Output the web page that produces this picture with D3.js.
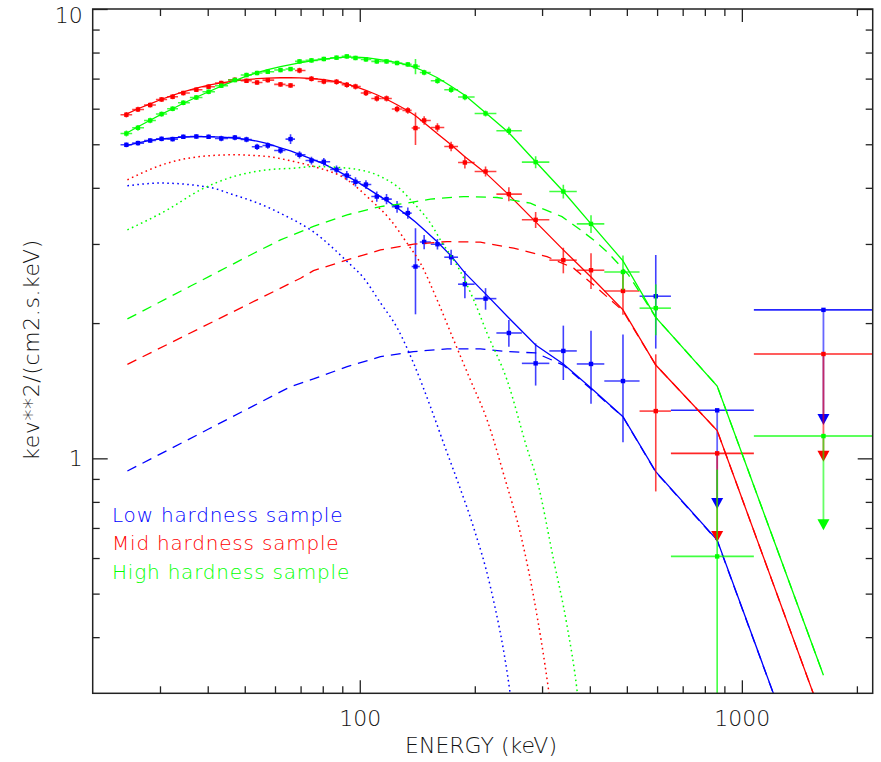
<!DOCTYPE html>
<html><head><meta charset="utf-8">
<script src="https://cdn.jsdelivr.net/npm/d3@7"></script>
<style>
html,body{margin:0;padding:0;background:#fff;}
svg{display:block;}
</style></head><body>
<svg id="chart" width="881" height="762"></svg>
<script>
// Channel energies (keV) shared by the three hardness samples, and their bin edges
const energy = [24.5, 26.27, 28.28, 30.29, 32.37, 34.53, 37.35, 40.21, 43.41, 47.11, 50.53, 53.85, 57.45, 62.02, 65.89, 69.55, 74.75, 80.52, 86.93, 92.48, 97.45, 103.8, 110.8, 117.5, 125.2, 133.6, 139.9, 147.4, 159.7, 173.4, 188.4, 213.4, 245.6, 288.6, 341.0, 402.9, 488.5, 595.2, 861.7, 1635];
const binEdges = [23.65, 25.37, 27.25, 29.27, 31.32, 33.44, 35.92, 38.75, 41.78, 45.22, 48.80, 52.17, 55.64, 59.70, 63.93, 67.69, 72.11, 77.60, 83.65, 89.66, 94.92, 100.6, 107.2, 114.0, 121.3, 129.3, 136.7, 143.6, 153.4, 166.4, 180.8, 199.8, 227.8, 265.6, 313.4, 369.8, 436.5, 539.8, 652.1, 1075, 2490];

// Unfolded spectra, keV^2 (photons/cm2/s/keV)
const lowValues = [4.986, 5.030, 5.097, 5.141, 5.134, 5.195, 5.203, 5.195, 5.150, 5.176, 5.124, 4.935, 4.968, 4.843, 5.134, 4.737, 4.600, 4.570, 4.393, 4.260, 4.125, 4.068, 3.825, 3.775, 3.629, 3.514, 2.672, 3.031, 2.996, 2.803, 2.441, 2.267, 1.901, 1.627, 1.734, 1.622, 1.486, 2.295];
const lowErrors = [0.06, 0.06, 0.06, 0.06, 0.06, 0.06, 0.06, 0.06, 0.07, 0.07, 0.07, 0.08, 0.08, 0.08, 0.13, 0.09, 0.09, 0.09, 0.09, 0.10, 0.10, 0.09, 0.10, 0.10, 0.11, 0.10, 0.58, 0.11, 0.08, 0.11, 0.17, 0.125, 0.13, 0.175, 0.24, 0.30, 0.40, 0.54];
const lowLimits = [{bin: 38, value: 1.279, arrowTo: 0.771}, {bin: 39, value: 2.140, arrowTo: 1.186}];

const midValues = [5.817, 5.977, 6.113, 6.291, 6.379, 6.501, 6.612, 6.714, 6.844, 6.956, 6.921, 6.862, 6.946, 6.795, 6.759, 7.299, 6.993, 6.897, 6.886, 6.781, 6.722, 6.501, 6.323, 6.323, 5.989, 5.947, 5.433, 5.649, 5.449, 4.943, 4.554, 4.349, 3.873, 3.395, 2.761, 2.622, 2.358, 1.274];
const midErrors = [0.08, 0.08, 0.08, 0.08, 0.08, 0.08, 0.08, 0.08, 0.08, 0.08, 0.08, 0.08, 0.08, 0.08, 0.08, 0.10, 0.10, 0.10, 0.10, 0.10, 0.10, 0.10, 0.10, 0.10, 0.10, 0.10, 0.45, 0.12, 0.12, 0.12, 0.14, 0.11, 0.14, 0.14, 0.18, 0.24, 0.27, 0.43];
const midLimits = [{bin: 38, value: 1.026, arrowTo: 0.651}, {bin: 39, value: 1.707, arrowTo: 0.983}];

const highValues = [5.284, 5.441, 5.649, 5.837, 5.998, 6.184, 6.355, 6.544, 6.749, 6.948, 7.129, 7.203, 7.251, 7.314, 7.352, 7.645, 7.685, 7.740, 7.792, 7.844, 7.781, 7.725, 7.645, 7.645, 7.582, 7.528, 7.451, 7.224, 6.921, 6.612, 6.368, 5.855, 5.358, 4.563, 3.925, 3.325, 2.599, 2.159, 0.605];
const highErrors = [0.08, 0.08, 0.08, 0.08, 0.08, 0.08, 0.08, 0.08, 0.08, 0.08, 0.08, 0.08, 0.08, 0.08, 0.08, 0.09, 0.09, 0.09, 0.09, 0.09, 0.09, 0.09, 0.09, 0.09, 0.09, 0.09, 0.29, 0.10, 0.10, 0.10, 0.10, 0.09, 0.11, 0.14, 0.14, 0.15, 0.23, 0.28, 0.34];
const highLimits = [{bin: 39, value: 1.121, arrowTo: 0.692}];

// Total model evaluated at the channel energies
const lowModel = [4.968, 5.037, 5.103, 5.141, 5.168, 5.187, 5.200, 5.200, 5.189, 5.163, 5.126, 5.079, 5.016, 4.910, 4.835, 4.749, 4.641, 4.523, 4.375, 4.253, 4.146, 4.010, 3.868, 3.751, 3.610, 3.464, 3.359, 3.225, 3.031, 2.822, 2.586, 2.323, 2.053, 1.788, 1.622, 1.434, 1.238, 0.934, 0.658, 0.149];
const midModel = [5.833, 5.998, 6.153, 6.297, 6.427, 6.544, 6.663, 6.767, 6.847, 6.918, 6.967, 6.996, 7.017, 7.031, 7.031, 7.024, 7.003, 6.960, 6.889, 6.801, 6.714, 6.594, 6.444, 6.297, 6.121, 5.936, 5.788, 5.581, 5.276, 4.986, 4.688, 4.318, 3.858, 3.359, 2.910, 2.533, 2.140, 1.613, 1.153, 0.260];
const highModel = [5.289, 5.469, 5.654, 5.833, 5.998, 6.169, 6.362, 6.544, 6.732, 6.925, 7.086, 7.215, 7.327, 7.440, 7.516, 7.586, 7.664, 7.731, 7.792, 7.812, 7.812, 7.792, 7.739, 7.673, 7.594, 7.497, 7.401, 7.269, 7.031, 6.732, 6.427, 5.875, 5.303, 4.570, 3.925, 3.325, 2.751, 2.059, 1.449, 0.329];

// Hard (power-law like) component, [energy, value]
const lowDashed = [[24.65, 0.937], [40.21, 1.162], [65.89, 1.444], [75.65, 1.502], [92.69, 1.600], [113.3, 1.684], [138.2, 1.728], [169.3, 1.752], [206.9, 1.752], [242.9, 1.728], [288.6, 1.716], [341.0, 1.613], [402.9, 1.427], [488.5, 1.236], [595.2, 0.932], [861.7, 0.656], [1635, 0.149]];
const midDashed = [[24.65, 1.619], [41.44, 2.017], [69.97, 2.517], [75.65, 2.617], [92.69, 2.764], [113.3, 2.910], [138.4, 2.996], [169.3, 3.037], [206.9, 3.027], [252.8, 2.935], [309.1, 2.812], [362.8, 2.650], [409.3, 2.432], [488.5, 2.129], [595.2, 1.613], [861.7, 1.153], [1635, 0.260]];
const highDashed = [[24.65, 2.043], [36.09, 2.418], [52.82, 2.861], [62.02, 3.063], [75.65, 3.281], [92.69, 3.483], [113.3, 3.634], [133.0, 3.698], [153.1, 3.775], [187.1, 3.825], [228.8, 3.806], [279.5, 3.698], [302.8, 3.585], [338.3, 3.451], [377.7, 3.225], [409.3, 3.063], [447.9, 2.861], [505.1, 2.560], [595.2, 2.059], [861.7, 1.449], [1635, 0.329]];

// Soft (thermal-like) component with exponential cutoff, [energy, value]
const lowDotted = [[24.65, 4.042], [30.04, 4.098], [40.61, 4.006], [46.74, 3.858], [53.90, 3.704], [63.17, 3.483], [75.65, 3.192], [92.69, 2.741], [102.3, 2.521], [113.3, 2.218], [125.3, 1.951], [138.2, 1.630], [153.1, 1.303], [167.5, 1.054], [179.8, 0.895], [198.3, 0.704], [219.7, 0.518], [246.8, 0.305], [250.8, 0.275]];
const midDotted = [[24.65, 4.168], [31.36, 4.539], [38.31, 4.696], [46.82, 4.737], [57.26, 4.696], [67.21, 4.577], [75.79, 4.461], [92.69, 4.168], [106.7, 3.761], [120.3, 3.394], [133.0, 3.012], [144.1, 2.719], [159.4, 2.252], [176.1, 1.834], [194.8, 1.494], [215.4, 1.217], [240.4, 0.895], [263.2, 0.681], [285.1, 0.492], [312.0, 0.305], [317.1, 0.275]];
const highDotted = [[24.65, 3.225], [31.36, 3.573], [38.31, 3.959], [46.82, 4.239], [57.26, 4.386], [67.21, 4.424], [75.79, 4.461], [92.69, 4.424], [113.3, 4.239], [125.3, 4.027], [138.4, 3.698], [153.1, 3.337], [162.6, 3.063], [183.4, 2.604], [198.7, 2.252], [215.4, 1.898], [242.9, 1.494], [274.0, 1.053], [291.0, 0.895], [321.6, 0.594], [348.6, 0.425], [370.3, 0.305], [375.4, 0.275]];

// Axis ticks
const xMajorTicks = [100, 1000];
const xMinorTicks = [30, 40, 50, 60, 70, 80, 90, 200, 300, 400, 500, 600, 700, 800, 900, 2000];
const yMajorTicks = [1, 10];
const yMinorTicks = [0.4, 0.5, 0.6, 0.7, 0.8, 0.9, 2, 3, 4, 5, 6, 7, 8, 9];

const samples = [
  {label: "Low hardness sample", color: "#0000ff", values: lowValues, errors: lowErrors, limits: lowLimits, model: lowModel, dashed: lowDashed, dotted: lowDotted},
  {label: "Mid hardness sample", color: "#ff0000", values: midValues, errors: midErrors, limits: midLimits, model: midModel, dashed: midDashed, dotted: midDotted},
  {label: "High hardness sample", color: "#00ff00", values: highValues, errors: highErrors, limits: highLimits, model: highModel, dashed: highDashed, dotted: highDotted}
];

const plot = {left: 92.7, top: 9, right: 872.7, bottom: 693.3};
const x = d3.scaleLog().domain([20, 2200]).range([plot.left, plot.right]);
const y = d3.scaleLog().domain([0.3, 10]).range([plot.bottom, plot.top]);
const FONT = '"DejaVu Sans", sans-serif';

const svg = d3.select("#chart");
svg.append("rect").attr("width", 881).attr("height", 762).attr("fill", "#fff");

svg.append("defs").append("clipPath").attr("id", "plotClip")
  .append("rect")
  .attr("x", plot.left).attr("y", plot.top)
  .attr("width", plot.right - plot.left).attr("height", plot.bottom - plot.top);

const yClamp = v => (v > 0 ? y(v) : plot.bottom + 50);

const layer = svg.append("g").attr("clip-path", "url(#plotClip)");

samples.forEach(s => {
  const g = layer.append("g");

  // model components
  const linePlain = d3.line().x(d => x(d[0])).y(d => y(d[1]));
  const lineSmooth = d3.line().curve(d3.curveMonotoneX).x(d => x(d[0])).y(d => y(d[1]));

  g.append("path").datum(s.dotted)
    .attr("d", lineSmooth).attr("fill", "none").attr("stroke", s.color)
    .attr("stroke-width", 1.5).attr("stroke-dasharray", "1.6,3.4");

  g.append("path").datum(s.dashed)
    .attr("d", linePlain).attr("fill", "none").attr("stroke", s.color)
    .attr("stroke-width", 1.3).attr("stroke-dasharray", "10,7");

  g.append("path").datum(s.model.map((v, i) => [energy[i], v]))
    .attr("d", linePlain).attr("fill", "none").attr("stroke", s.color)
    .attr("stroke-width", 1.3);

  // data points with error bars
  const pts = s.values.map((v, i) => ({i, v, e: s.errors[i]}));
  const bars = g.append("g").attr("stroke", s.color).attr("stroke-width", 1.6).attr("stroke-opacity", 0.75);
  bars.selectAll(".hbar").data(pts).join("line")
    .attr("x1", d => x(binEdges[d.i])).attr("x2", d => x(binEdges[d.i + 1]))
    .attr("y1", d => y(d.v)).attr("y2", d => y(d.v));
  bars.selectAll(".vbar").data(pts).join("line")
    .attr("x1", d => x(energy[d.i])).attr("x2", d => x(energy[d.i]))
    .attr("y1", d => yClamp(d.v - d.e)).attr("y2", d => y(d.v + d.e));

  // upper limits
  const ul = g.append("g");
  ul.selectAll(".ulh").data(s.limits).join("line")
    .attr("stroke", s.color).attr("stroke-width", 1.6).attr("stroke-opacity", 0.85)
    .attr("x1", d => x(binEdges[d.bin])).attr("x2", d => x(binEdges[d.bin + 1]))
    .attr("y1", d => y(d.value)).attr("y2", d => y(d.value));
  ul.selectAll(".ulv").data(s.limits).join("line")
    .attr("stroke", s.color).attr("stroke-width", 1.8).attr("stroke-opacity", 0.6)
    .attr("x1", d => x(energy[d.bin])).attr("x2", d => x(energy[d.bin]))
    .attr("y1", d => y(d.value)).attr("y2", d => y(d.arrowTo) - 6);
  ul.selectAll(".ula").data(s.limits).join("path")
    .attr("fill", s.color)
    .attr("d", d => {
      const cx = x(energy[d.bin]), ty = y(d.arrowTo);
      return `M${cx - 6},${ty - 11}L${cx + 6},${ty - 11}L${cx},${ty}Z`;
    });

  const markers = pts.map(d => ({e: energy[d.i], v: d.v}))
    .concat(s.limits.map(d => ({e: energy[d.bin], v: d.value})));
  g.selectAll(".mk").data(markers).join("rect")
    .attr("x", d => x(d.e) - 2.2).attr("y", d => y(d.v) - 2.2)
    .attr("width", 4.4).attr("height", 4.4).attr("fill", s.color);
});

// axes, ticks pointing into the frame
function styleAxis(sel) {
  sel.select(".domain").remove();
  sel.attr("color", "#222");
  sel.selectAll(".tick line").attr("stroke-width", 1.3);
  sel.selectAll("text").attr("font-family", FONT).attr("font-size", 22).attr("fill", "#111").attr("font-weight", 300);
}
const fmt = d3.format("d");
svg.append("g").attr("transform", `translate(0,${plot.bottom})`)
  .call(d3.axisBottom(x).tickValues(xMinorTicks).tickSizeInner(-7).tickSizeOuter(0).tickFormat("")).call(styleAxis);
svg.append("g").attr("transform", `translate(0,${plot.bottom})`)
  .call(d3.axisBottom(x).tickValues(xMajorTicks).tickSizeInner(-13).tickSizeOuter(0).tickPadding(17).tickFormat(fmt)).call(styleAxis);
svg.append("g").attr("transform", `translate(0,${plot.top})`)
  .call(d3.axisTop(x).tickValues(xMinorTicks).tickSizeInner(-7).tickSizeOuter(0).tickFormat("")).call(styleAxis);
svg.append("g").attr("transform", `translate(0,${plot.top})`)
  .call(d3.axisTop(x).tickValues(xMajorTicks).tickSizeInner(-13).tickSizeOuter(0).tickFormat("")).call(styleAxis);

svg.append("g").attr("transform", `translate(${plot.left},0)`)
  .call(d3.axisLeft(y).tickValues(yMinorTicks).tickSizeInner(-7).tickSizeOuter(0).tickFormat("")).call(styleAxis);
const yMajor = svg.append("g").attr("transform", `translate(${plot.left},0)`)
  .call(d3.axisLeft(y).tickValues(yMajorTicks).tickSizeInner(-15).tickSizeOuter(0).tickPadding(10).tickFormat(fmt)).call(styleAxis);
yMajor.selectAll(".tick").filter(d => d === 10).select("text").attr("dy", "0.62em");
svg.append("g").attr("transform", `translate(${plot.right},0)`)
  .call(d3.axisRight(y).tickValues(yMinorTicks).tickSizeInner(-7).tickSizeOuter(0).tickFormat("")).call(styleAxis);
svg.append("g").attr("transform", `translate(${plot.right},0)`)
  .call(d3.axisRight(y).tickValues(yMajorTicks).tickSizeInner(-15).tickSizeOuter(0).tickFormat("")).call(styleAxis);

// frame
svg.append("rect")
  .attr("x", plot.left).attr("y", plot.top)
  .attr("width", plot.right - plot.left).attr("height", plot.bottom - plot.top)
  .attr("fill", "none").attr("stroke", "#222").attr("stroke-width", 1.5);

// axis titles
svg.append("text")
  .attr("x", 481).attr("y", 753).attr("text-anchor", "middle")
  .attr("font-family", FONT).attr("font-size", 22).attr("font-weight", 300).attr("fill", "#111")
  .text("ENERGY (keV)");
svg.append("text")
  .attr("transform", "translate(39,350) rotate(-90)").attr("text-anchor", "middle")
  .attr("font-family", FONT).attr("font-size", 22).attr("font-weight", 300).attr("fill", "#111")
  .attr("letter-spacing", 0.6)
  .text("kev**2/(cm2.s.keV)");

// sample labels
svg.append("g").selectAll("text").data(samples).join("text")
  .attr("x", 112).attr("y", (d, i) => 521.7 + i * 28.7)
  .attr("font-family", FONT).attr("font-size", 20).attr("font-weight", 300)
  .attr("letter-spacing", 0.8)
  .attr("fill", d => d.color)
  .text(d => d.label);
</script>
</body></html>
